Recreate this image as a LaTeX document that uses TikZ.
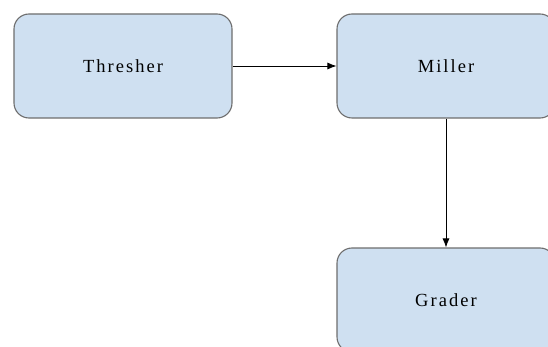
\documentclass[tikz,border=0pt]{standalone}
\usepackage{fontspec}
\setmainfont{Liberation Serif}[LetterSpace=11]
\usetikzlibrary{arrows.meta}
\definecolor{boxfill}{HTML}{CFE0F1}
\definecolor{boxline}{HTML}{6E6E6E}
\tikzset{
  procbox/.style={draw=boxline, line width=1.1pt, fill=boxfill, rounded corners=15pt,
    minimum width=218pt, minimum height=104pt, inner sep=0pt,
    font=\fontsize{18.5pt}{20pt}\selectfont},
  flow/.style={draw=black, line width=0.8pt, -{Latex[length=9pt,width=7pt]}}
}
\begin{document}
\begin{tikzpicture}[x=1pt,y=-1pt]
\useasboundingbox (0,0) rectangle (548,347);
\clip (0,0) rectangle (548,347);
\fill[white] (0,0) rectangle (548,347);
\node[procbox] (t) at (123,66) {Thresher};
\node[procbox] (m) at (446,66) {Miller};
\node[procbox] (g) at (446,300) {Grader};
\draw[flow] (t.east) -- (m.west);
\draw[flow] (m.south) -- (g.north);
\end{tikzpicture}
\end{document}
